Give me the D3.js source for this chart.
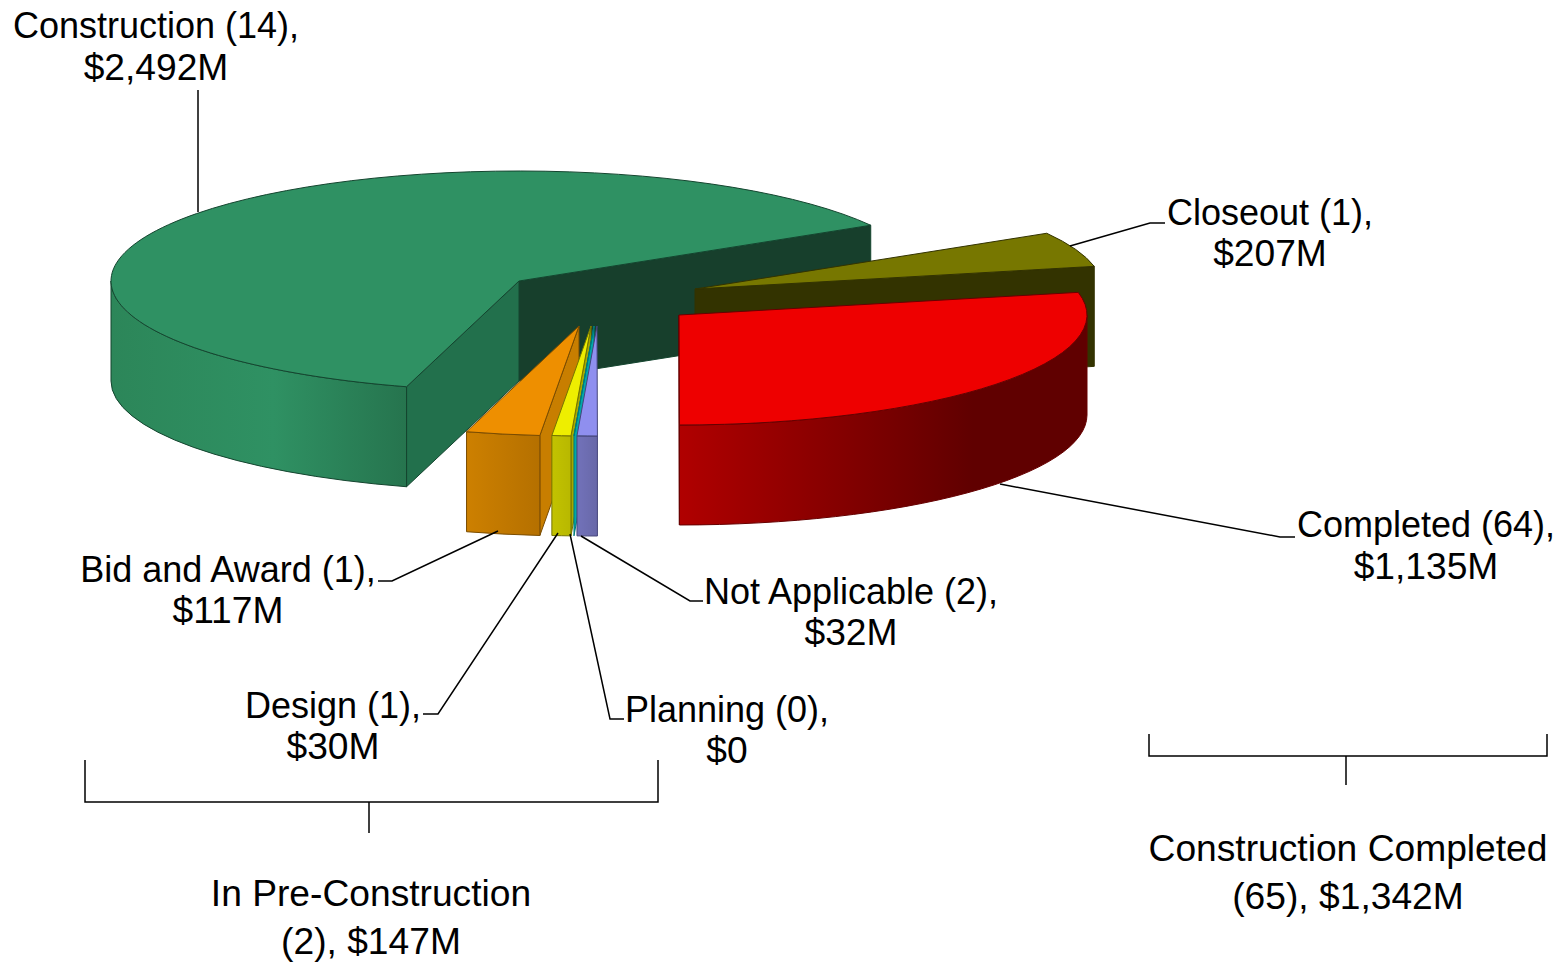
<!DOCTYPE html>
<html>
<head>
<meta charset="utf-8">
<script src="https://cdn.jsdelivr.net/npm/d3@7"></script>
<style>
  html, body { margin: 0; padding: 0; background: #fff; }
  svg { display: block; }
  text { font-family: "Liberation Sans", Arial, sans-serif; font-size: 36px; fill: #000; text-anchor: middle; }
  text.group { font-size: 37.2px; }
</style>
</head>
<body>
<svg id="chart" width="1567" height="964"></svg>
<script>
// chart values
var stages = ['Construction', 'Closeout', 'Completed', 'Not Applicable', 'Planning', 'Design', 'Bid and Award'];
var projectCounts = [14, 1, 64, 2, 0, 1, 1];
var dollarValues = [2492, 207, 1135, 32, 0, 30, 117];
var groupNames = ['Construction Completed', 'In Pre-Construction'];
var groupCounts = [65, 2];
var groupValues = [1342, 147];

// layout
var center = {x: 678, y: 315};
var radiusX = 408, radiusY = 110, depth = 100;
var firstSliceDeg = 196;
var paintOrder = ['Construction', 'Closeout', 'Bid and Award', 'Design', 'Planning', 'Not Applicable', 'Completed'];
var sliceOffsets = {
  'Construction': [-159, -34],
  'Closeout': [17, -26],
  'Completed': [1, 0],
  'Not Applicable': [-81, 11],
  'Planning': [-84, 11],
  'Design': [-87, 11],
  'Bid and Award': [-99, 11]
};
var topColors = {
  'Construction': '#2f9163', 'Closeout': '#777700', 'Completed': '#ee0000',
  'Not Applicable': '#8f8fef', 'Planning': '#00b0b0', 'Design': '#eeee00', 'Bid and Award': '#ee8f00'
};
var edgeColors = {
  'Construction': '#14452f', 'Closeout': '#333300', 'Completed': '#660000',
  'Not Applicable': '#45457a', 'Planning': '#007a7a', 'Design': '#757500', 'Bid and Award': '#7a4c00'
};
var startFaceColors = {
  'Construction': '#22704c', 'Closeout': '#333300', 'Completed': '#800000',
  'Not Applicable': '#6f6fb4', 'Planning': '#00a8a8', 'Design': '#a8a800', 'Bid and Award': '#c87e00'
};
var endFaceColors = {
  'Construction': '#173f2c', 'Closeout': '#333300', 'Completed': '#500000',
  'Not Applicable': '#40406f', 'Planning': '#006060', 'Design': '#5c5c00', 'Bid and Award': '#6d4500'
};
var wallStops = {
  'Construction': [[0, '#2c8659'], [0.55, '#2f9163'], [1, '#26744e']],
  'Closeout': [[0, '#333300'], [1, '#333300']],
  'Completed': [[0, '#b00000'], [0.72, '#600000'], [1, '#600000']],
  'Not Applicable': [[0, '#7272ba'], [1, '#6868a8']],
  'Planning': [[0, '#00a8a8'], [1, '#00a8a8']],
  'Design': [[0, '#c2c200'], [1, '#b8b800']],
  'Bid and Award': [[0, '#cd8000'], [1, '#b57000']]
};
var sliceLabels = [
  {stage: 'Construction', x: 156, y: 38, gap: 42, leader: [[198, 90], [198, 212]]},
  {stage: 'Closeout', x: 1270, y: 225, gap: 41, leader: [[1070, 246], [1150, 223], [1165, 223]]},
  {stage: 'Completed', x: 1426, y: 537, gap: 42, leader: [[1000, 484], [1280, 537], [1295, 537]]},
  {stage: 'Not Applicable', x: 851, y: 604, gap: 41, leader: [[581, 536], [690, 601], [703, 601]]},
  {stage: 'Planning', x: 727, y: 722, gap: 41, leader: [[570, 534], [610, 719], [624, 719]]},
  {stage: 'Design', x: 333, y: 718, gap: 41, leader: [[558, 533], [438, 714], [423, 714]]},
  {stage: 'Bid and Award', x: 228, y: 582, gap: 41, leader: [[498, 531], [392, 581], [378, 581]]}
];
var brackets = [
  {x0: 1149, x1: 1547, top: 734, y: 756, stemX: 1346, stemEnd: 785, textX: 1348, textY: 861, gap: 48},
  {x0: 85, x1: 658, top: 760, y: 802, stemX: 369, stemEnd: 833, textX: 371, textY: 906, gap: 48}
];

var svg = d3.select('#chart');
var money = d3.format(',');
var rimX = d3.scaleLinear().domain([-1, 1]).range([-radiusX, radiusX]);
var rimY = d3.scaleLinear().domain([-1, 1]).range([-radiusY, radiusY]);

var slices = d3.pie()
  .sort(null)
  .value(function(d) { return d.value; })
  .startAngle(firstSliceDeg * Math.PI / 180)
  .endAngle((firstSliceDeg + 360) * Math.PI / 180)(stages.map(function(s, i) {
    return {stage: s, value: dollarValues[i]};
  }));
var sliceByStage = {};
slices.forEach(function(s) { sliceByStage[s.data.stage] = s; });

var defs = svg.append('defs');
stages.forEach(function(s, i) {
  var grad = defs.append('linearGradient').attr('id', 'wall' + i);
  wallStops[s].forEach(function(stop) {
    grad.append('stop').attr('offset', stop[0]).attr('stop-color', stop[1]);
  });
});

function apexOf(stage) {
  var off = sliceOffsets[stage];
  return [center.x + off[0], center.y + off[1]];
}
// point on the rim of a slice, angle runs clockwise from 12 o'clock
function rimPoint(stage, angle, drop) {
  var a = apexOf(stage);
  return [a[0] + rimX(Math.sin(angle)), a[1] + rimY(-Math.cos(angle)) + (drop || 0)];
}
function ellipseTo(p, angleSpan, sweep) {
  return 'A' + radiusX + ',' + radiusY + ' 0 ' + (angleSpan > Math.PI ? 1 : 0) + ' ' + sweep + ' ' + p[0] + ',' + p[1];
}
function topPath(s) {
  var stage = s.data.stage, a = apexOf(stage);
  return 'M' + a + 'L' + rimPoint(stage, s.startAngle) +
    ellipseTo(rimPoint(stage, s.endAngle), s.endAngle - s.startAngle, 1) + 'Z';
}
function radialFace(stage, angle) {
  var a = apexOf(stage);
  return 'M' + a + 'L' + rimPoint(stage, angle) + 'L' + rimPoint(stage, angle, depth) +
    'L' + [a[0], a[1] + depth] + 'Z';
}
// the front half of the rim is the only part of the outer wall that shows
function wallPath(s) {
  var stage = s.data.stage;
  var turn = Math.floor(s.startAngle / (2 * Math.PI)) * 2 * Math.PI;
  var from = Math.max(s.startAngle, turn + Math.PI / 2);
  var to = Math.min(s.endAngle, turn + 3 * Math.PI / 2);
  if (to <= from) return null;
  return 'M' + rimPoint(stage, from) + ellipseTo(rimPoint(stage, to), to - from, 1) +
    'L' + rimPoint(stage, to, depth) + ellipseTo(rimPoint(stage, from, depth), to - from, 0) + 'Z';
}

var pieGroup = svg.append('g');
paintOrder.forEach(function(stage) {
  var s = sliceByStage[stage];
  var g = pieGroup.append('g');
  var edge = edgeColors[stage];

  function addFace(d, fill) {
    g.append('path').attr('d', d).attr('fill', fill)
      .attr('stroke', edge).attr('stroke-width', 1).attr('stroke-linejoin', 'round');
  }
  if (Math.sin(s.endAngle) > 0.001) addFace(radialFace(stage, s.endAngle), endFaceColors[stage]);
  if (Math.sin(s.startAngle) < -0.001) addFace(radialFace(stage, s.startAngle), startFaceColors[stage]);

  var wall = wallPath(s);
  if (wall) addFace(wall, 'url(#wall' + stages.indexOf(stage) + ')');
  addFace(topPath(s), topColors[stage]);
});

var leaderLine = d3.line();
var labels = svg.append('g');
sliceLabels.forEach(function(l) {
  var i = stages.indexOf(l.stage);
  labels.append('path').attr('d', leaderLine(l.leader))
    .attr('fill', 'none').attr('stroke', '#000').attr('stroke-width', 1.5);
  labels.append('text').attr('x', l.x).attr('y', l.y).text(l.stage + ' (' + projectCounts[i] + '),');
  labels.append('text').attr('class', 'group').attr('x', l.x).attr('y', l.y + l.gap)
    .text('$' + money(dollarValues[i]) + (dollarValues[i] ? 'M' : ''));
});

brackets.forEach(function(b, i) {
  labels.append('path')
    .attr('d', leaderLine([[b.x0, b.top], [b.x0, b.y], [b.x1, b.y], [b.x1, b.top]]))
    .attr('fill', 'none').attr('stroke', '#000').attr('stroke-width', 1.5);
  labels.append('path')
    .attr('d', leaderLine([[b.stemX, b.y], [b.stemX, b.stemEnd]]))
    .attr('fill', 'none').attr('stroke', '#000').attr('stroke-width', 1.5);
  labels.append('text').attr('class', 'group').attr('x', b.textX).attr('y', b.textY).text(groupNames[i]);
  labels.append('text').attr('class', 'group').attr('x', b.textX).attr('y', b.textY + b.gap)
    .text('(' + groupCounts[i] + '), $' + money(groupValues[i]) + 'M');
});
</script>
</body>
</html>
